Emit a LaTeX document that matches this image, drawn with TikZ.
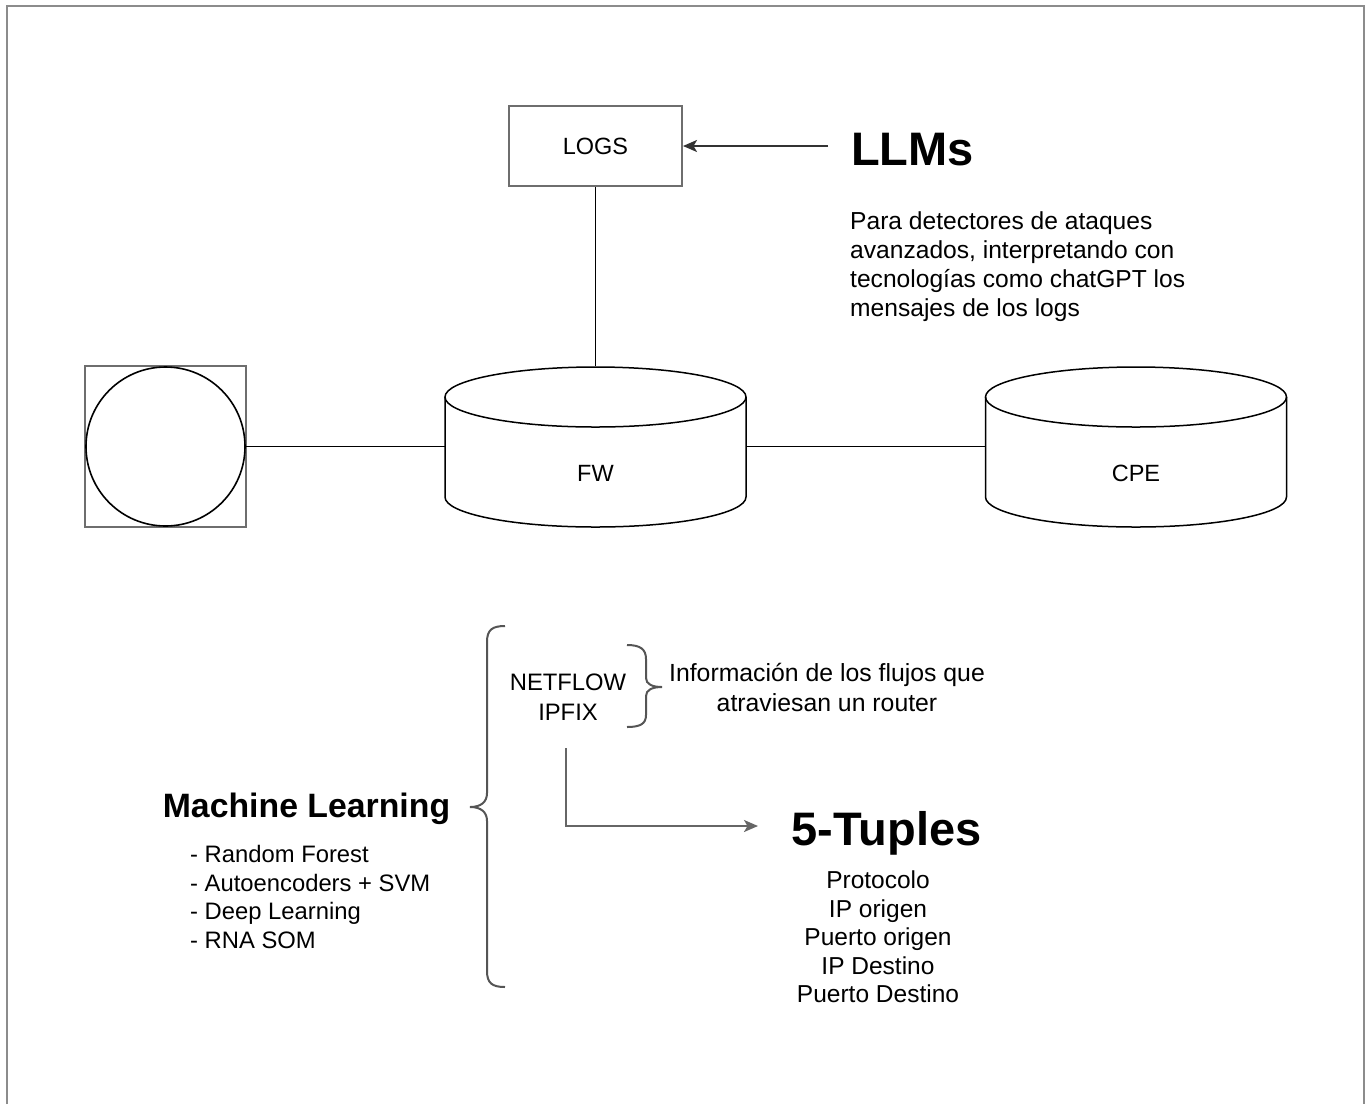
\documentclass[tikz,border=0pt]{standalone}
\usepackage{fontspec}
\setmainfont{Liberation Sans}
\usetikzlibrary{arrows.meta}
\definecolor{framegray}{HTML}{8C8C8C}
\definecolor{boxgray}{HTML}{6E6E6E}
\definecolor{bracegray}{HTML}{555555}
\definecolor{arrgray}{HTML}{333333}
\definecolor{elbowgray}{HTML}{666666}
\begin{document}
\begin{tikzpicture}[x=1pt,y=-1pt,
  txt/.style={font=\fontsize{23.5}{29}\selectfont, inner sep=0pt},
  graybox/.style={draw=boxgray, line width=2pt},
  cyl/.style={draw=black, line width=1.5pt},
  conn/.style={draw=black, line width=1.5pt},
  arr/.style={draw=arrgray, line width=2pt, -{Stealth[length=14pt,width=12pt,inset=3.5pt]}},
  brace/.style={draw=bracegray, line width=2pt},
  head/.style={font=\fontsize{47}{56}\selectfont\bfseries, inner sep=0pt},
]
\useasboundingbox (0,0) rectangle (1367,1104);
\fill[white] (0,0) rectangle (1367,1104);
\draw[framegray, line width=2pt] (7,1104) -- (7,6) -- (1364,6) -- (1364,1104);

% LOGS and LLMs
\node[graybox, minimum width=173pt, minimum height=80pt, txt] (logs) at (595.5,146) {LOGS};
\node[head, anchor=west] (llm) at (851,150) {LLMs};
\coordinate (llmarrow) at (828,146);
\draw[arr] (llmarrow) -- (logs.east);
\node[font=\fontsize{24.6}{29}\selectfont, inner sep=0pt, align=left, anchor=west] (para) at (850,267) {Para detectores de ataques\\avanzados, interpretando con\\tecnologías como chatGPT los\\mensajes de los logs};

% square with circle
\node[graybox, minimum size=161pt, inner sep=0pt] (sq) at (165.5,446.5) {};
\node[circle, draw=black, line width=1.6pt, minimum size=159pt, inner sep=0pt] (circ) at (sq.center) {};

% FW cylinder
\node[minimum width=301pt, minimum height=161pt, inner sep=0pt] (fw) at (595.5,446.5) {};
\draw[cyl] (445,397) -- (445,497) arc[start angle=180, end angle=360, x radius=150.5pt, y radius=30pt] -- (746,397);
\draw[cyl] (595.5,397) ellipse[x radius=150.5pt, y radius=30pt];
\node[txt] (fwlabel) at (595.5,473) {FW};

% CPE cylinder
\node[minimum width=301pt, minimum height=161pt, inner sep=0pt] (cpe) at (1136,446.5) {};
\draw[cyl] (985.5,397) -- (985.5,497) arc[start angle=180, end angle=360, x radius=150.5pt, y radius=30pt] -- (1286.5,397);
\draw[cyl] (1136,397) ellipse[x radius=150.5pt, y radius=30pt];
\node[txt] (cpelabel) at (1136,473) {CPE};

% connectors
\draw[conn] (circ.east) -- (fw.west);
\draw[conn] (fw.east) -- (cpe.west);
\draw[conn] (logs.south) -- (fw.north);

% Machine learning
\node[font=\fontsize{33.8}{40}\selectfont\bfseries, inner sep=0pt] (ml) at (306.5,809) {Machine Learning};
\node[font=\fontsize{23.8}{28.7}\selectfont, inner sep=0pt, align=left, anchor=west] (mllist) at (190,897) {- Random Forest\\- Autoencoders + SVM\\- Deep Learning\\- RNA SOM};

% big brace
\draw[brace] (505,626) .. controls (492,626) and (487,630) .. (487,642) -- (487,793)
  .. controls (487,802) and (481,807) .. (470,807)
  .. controls (481,807) and (487,812) .. (487,821) -- (487,971)
  .. controls (487,983) and (492,987) .. (505,987);

% NETFLOW
\node[font=\fontsize{23.8}{30}\selectfont, inner sep=0pt, align=center] (nf) at (568,697) {NETFLOW\\IPFIX};
\draw[brace] (627,645) .. controls (640,645) and (646,649) .. (646,659) -- (646,678)
  .. controls (646,684) and (652,687) .. (662,687)
  .. controls (652,687) and (646,690) .. (646,696) -- (646,715)
  .. controls (646,724) and (640,727) .. (627,727);
\node[font=\fontsize{24.8}{30}\selectfont, inner sep=0pt, align=center] (info) at (827,687) {Información de los flujos que\\atraviesan un router};

% 5-Tuples
\node[head] (tup) at (886.5,833) {5-Tuples};
\node[font=\fontsize{24.5}{28.5}\selectfont, inner sep=0pt, align=center] (tuplist) at (878,937) {Protocolo\\IP origen\\Puerto origen\\IP Destino\\Puerto Destino};
\coordinate (elb) at (566,748);
\coordinate (tupin) at (758,826);
\draw[arr, draw=elbowgray] (elb) |- (tupin);
\end{tikzpicture}
\end{document}
